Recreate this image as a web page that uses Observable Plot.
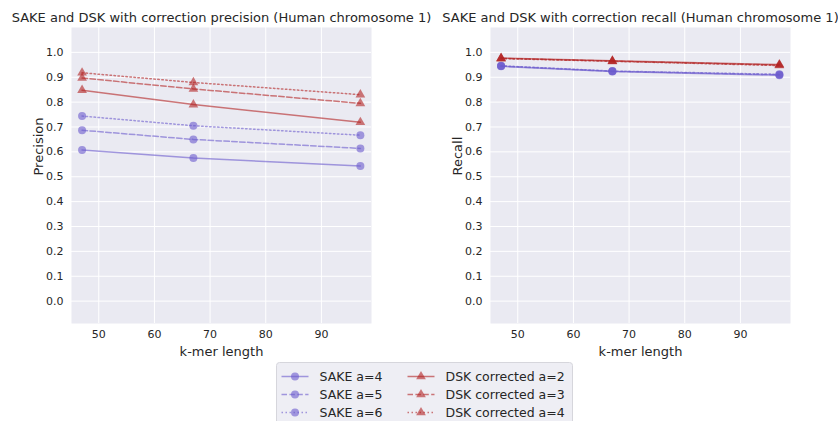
<!DOCTYPE html>
<html>
<head>
<meta charset="utf-8">
<script src="https://cdn.jsdelivr.net/npm/d3@7"></script>
<script src="https://cdn.jsdelivr.net/npm/@observablehq/plot@0.6"></script>
<style>
  body { margin: 0; background: #fff; font-family: "DejaVu Sans", sans-serif; }
  #wrap { position: relative; width: 838px; height: 421px; overflow: hidden; }
  #wrap > svg { position: absolute; top: 0; }
</style>
</head>
<body>
<div id="wrap"></div>
<script>
// k-mer lengths evaluated
const kmerLengths = [47, 67, 97];
const xTicks = [50, 60, 70, 80, 90];
const yTicks = [0, 0.1, 0.2, 0.3, 0.4, 0.5, 0.6, 0.7, 0.8, 0.9, 1.0];

// series labels (SAKE with its a parameter, DSK corrected with its a parameter)
const seriesNames = ["SAKE a=4", "SAKE a=5", "SAKE a=6",
                     "DSK corrected a=2", "DSK corrected a=3", "DSK corrected a=4"];

// precision per k-mer length
const sakeA4Precision = [0.608, 0.575, 0.543];
const sakeA5Precision = [0.687, 0.650, 0.614];
const sakeA6Precision = [0.744, 0.705, 0.667];
const dskA2Precision  = [0.848, 0.790, 0.719];
const dskA3Precision  = [0.897, 0.853, 0.795];
const dskA4Precision  = [0.918, 0.879, 0.830];

// recall per k-mer length
const sakeA4Recall = [0.944, 0.923, 0.908];
const sakeA5Recall = [0.945, 0.924, 0.910];
const sakeA6Recall = [0.946, 0.925, 0.912];
const dskA2Recall  = [0.977, 0.966, 0.951];
const dskA3Recall  = [0.976, 0.965, 0.949];
const dskA4Recall  = [0.975, 0.964, 0.947];

// styling per series
const seriesColor  = ["#6a5acd", "#6a5acd", "#6a5acd", "#b22222", "#b22222", "#b22222"];
const seriesDash   = [null, "5.5,2.4", "1.5,2.5", null, "5.5,2.4", "1.5,2.5"];
const seriesSymbol = ["circle", "circle", "circle", "triangle", "triangle", "triangle"];
const seriesR      = [4, 4, 4, 3.6, 3.6, 3.6];

const precisionSeries = [sakeA4Precision, sakeA5Precision, sakeA6Precision,
                         dskA2Precision, dskA3Precision, dskA4Precision];
const recallSeries = [sakeA4Recall, sakeA5Recall, sakeA6Recall,
                      dskA2Recall, dskA3Recall, dskA4Recall];

const FONT = "DejaVu Sans";
const TEXT = "#262626";

function toRows(seriesValues) {
  return seriesValues.map((vals, i) =>
    vals.map((v, j) => ({series: seriesNames[i], idx: i, k: kmerLengths[j], value: v})));
}

function panel(seriesValues, title, yLabel, left) {
  const rows = toRows(seriesValues);
  const marks = [
    Plot.frame({fill: "#eaeaf2", stroke: null}),
    Plot.gridX({ticks: xTicks, stroke: "white", strokeOpacity: 1, strokeWidth: 1}),
    Plot.gridY({ticks: yTicks, stroke: "white", strokeOpacity: 1, strokeWidth: 1}),
    Plot.axisX({ticks: xTicks, tickSize: 0, tickPadding: 7, fontSize: 11, label: null}),
    Plot.axisY({ticks: yTicks, tickSize: 0, tickPadding: 8, fontSize: 11, tickFormat: ".1f", label: null})
  ];
  rows.forEach((data, i) => {
    marks.push(Plot.line(data, {
      x: "k", y: "value", stroke: seriesColor[i], strokeOpacity: 0.6,
      strokeWidth: 1.5, strokeDasharray: seriesDash[i]
    }));
    marks.push(Plot.dot(data, {
      x: "k", y: "value", symbol: seriesSymbol[i], r: seriesR[i],
      fill: seriesColor[i], fillOpacity: 0.6, stroke: null
    }));
  });
  marks.push(
    Plot.text([title], {frameAnchor: "top", dy: -6, lineAnchor: "bottom", fontSize: 13, fill: TEXT}),
    Plot.text(["k-mer length"], {frameAnchor: "bottom", dy: 28, lineAnchor: "middle", fontSize: 13, fill: TEXT}),
    Plot.text([yLabel], {frameAnchor: "left", dx: -33, rotate: -90, lineAnchor: "middle", fontSize: 13, fill: TEXT})
  );
  const svg = Plot.plot({
    width: 419, height: 360,
    marginLeft: 71, marginRight: 48, marginTop: 27, marginBottom: 37,
    x: {domain: [45.1, 99]},
    y: {domain: [-0.09, 1.1]},
    style: {fontFamily: FONT, color: TEXT, background: "transparent", overflow: "visible"},
    marks
  });
  svg.style.left = left + "px";
  return svg;
}

const wrap = document.getElementById("wrap");
wrap.appendChild(panel(precisionSeries, "SAKE and DSK with correction precision (Human chromosome 1)", "Precision", 0));
wrap.appendChild(panel(recallSeries, "SAKE and DSK with correction recall (Human chromosome 1)", "Recall", 419));

// legend: two columns of three entries
const lg = d3.select(wrap).append("svg")
  .attr("width", 298).attr("height", 62)
  .style("left", "276px").style("top", "362px")
  .style("font-family", FONT);
lg.append("rect").attr("x", 0.5).attr("y", 0.5).attr("width", 296).attr("height", 70)
  .attr("rx", 3).attr("fill", "#eeeef4").attr("stroke", "#d6d6dc");
const colX = [5.5, 131.5];
const rowY = [14.5, 32.5, 50.5];
seriesNames.forEach((name, i) => {
  const cx = colX[Math.floor(i / 3)], cy = rowY[i % 3];
  const g = lg.append("g").attr("transform", `translate(${cx},${cy})`);
  g.append("line").attr("x1", 0).attr("x2", 27).attr("y1", 0).attr("y2", 0)
    .attr("stroke", seriesColor[i]).attr("stroke-opacity", 0.6).attr("stroke-width", 1.5)
    .attr("stroke-dasharray", seriesDash[i]);
  const sym = seriesSymbol[i] === "circle" ? d3.symbolCircle : d3.symbolTriangle;
  g.append("path").attr("transform", "translate(13.5,0)")
    .attr("d", d3.symbol(sym, Math.PI * seriesR[i] * seriesR[i])())
    .attr("fill", seriesColor[i]).attr("fill-opacity", 0.6);
  g.append("text").attr("x", 38).attr("y", 0).attr("dy", "0.35em")
    .attr("font-size", 12.5).attr("fill", TEXT).text(name);
});
</script>
</body>
</html>
